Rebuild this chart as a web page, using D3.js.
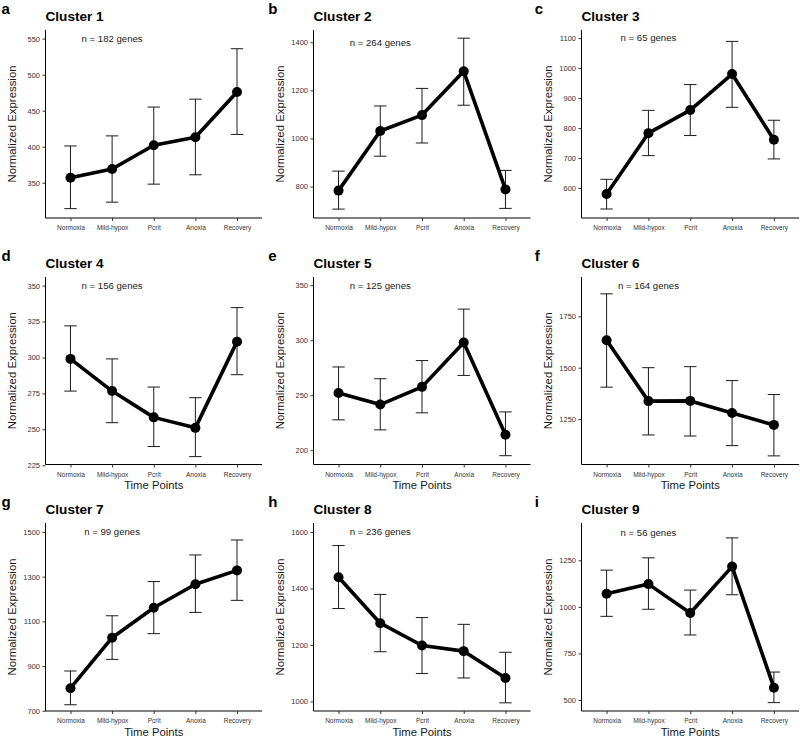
<!DOCTYPE html>
<html>
<head>
<meta charset="utf-8">
<script src="https://cdn.jsdelivr.net/npm/d3@7"></script>
<style>
  body { margin: 0; background: white; }
  svg text { font-family: "Liberation Sans", Arial, sans-serif; }
</style>
</head>
<body>
<div id="chart"></div>
<script>
// time points on the x axis
var timePoints = ["Normoxia", "Mild-hypox", "Pcrit", "Anoxia", "Recovery"];
var panelLetters = ["a", "b", "c", "d", "e", "f", "g", "h", "i"];
var clusterNames = ["Cluster 1", "Cluster 2", "Cluster 3", "Cluster 4", "Cluster 5", "Cluster 6", "Cluster 7", "Cluster 8", "Cluster 9"];
var geneCounts = [182, 264, 65, 156, 125, 164, 99, 236, 56];

// mean normalized expression per cluster
var means = [
  [357, 369, 402, 413, 476],
  [783, 1031, 1097, 1279, 788],
  [580, 783, 860, 980, 761],
  [299, 276.6, 258.3, 251, 311],
  [252, 241.5, 257.6, 298, 214],
  [1634, 1337, 1338, 1279, 1221],
  [801, 1027, 1161, 1266, 1328],
  [1440, 1277, 1198, 1178, 1083],
  [1070, 1122, 967, 1216, 566]
];
var errLow = [
  [314, 323, 348, 361, 417],
  [706, 926, 981, 1138, 709],
  [530, 708, 775, 869, 697],
  [276.6, 254.6, 238, 231, 288],
  [227.6, 218.5, 234, 268, 195],
  [1405, 1172, 1167, 1120, 1070],
  [727, 930, 1045, 1140, 1194],
  [1329, 1176, 1099, 1083, 995],
  [949, 987, 849, 1065, 486]
];
var errHigh = [
  [401, 415, 455, 466, 536],
  [864, 1135, 1208, 1417, 867],
  [629, 859, 945, 1089, 826],
  [322, 299, 279.4, 272, 334.7],
  [275.7, 265, 281.5, 328.3, 234.8],
  [1860, 1500, 1505, 1437, 1369],
  [878, 1125, 1278, 1397, 1464],
  [1552, 1379, 1297, 1273, 1174],
  [1197, 1263, 1090, 1370, 650]
];
// y value where the "n = .. genes" text sits
var labelY = [550, 1400, 1100, 350, 350, 1900, 1500, 1600, 1400];
var yDomains = [
  [301, 562], [669, 1451], [500, 1127],
  [225.5, 356], [187, 357.5], [1028, 1942],
  [699, 1540], [966, 1632], [441, 1450]
];
var yTicks = [
  [350, 400, 450, 500, 550],
  [800, 1000, 1200, 1400],
  [600, 700, 800, 900, 1000, 1100],
  [225, 250, 275, 300, 325, 350],
  [200, 250, 300, 350],
  [1250, 1500, 1750],
  [700, 900, 1100, 1300, 1500],
  [1000, 1200, 1400, 1600],
  [500, 750, 1000, 1250]
];

var W = 800, H = 738;
var colStart = [0, 266.7, 533.3];
var colLeft = [45.5, 313.5, 581.5];
var colRight = [262, 530.5, 799];
var rowTop = [30, 277, 523];
var rowBottom = [218, 464.5, 711];

var svg = d3.select("#chart").append("svg")
  .attr("width", W)
  .attr("height", H)
  .style("background", "white");

means.forEach(function (m, i) {
  var col = i % 3, row = Math.floor(i / 3);
  var left = colLeft[col], right = colRight[col];
  var top = rowTop[row], bottom = rowBottom[row];

  var data = timePoints.map(function (t, j) {
    return { tp: t, mean: m[j], lo: errLow[i][j], hi: errHigh[i][j] };
  });

  var x = d3.scalePoint()
    .domain(timePoints)
    .range([left, right])
    .padding(0.6);

  var y = d3.scaleLinear()
    .domain(yDomains[i])
    .range([bottom, top]);

  var g = svg.append("g");

  // axes
  var yAxis = g.append("g")
    .attr("transform", "translate(" + left + ",0)")
    .call(d3.axisLeft(y).tickValues(yTicks[i]).tickFormat(d3.format("d")).tickSize(3).tickPadding(2.5).tickSizeOuter(0));
  yAxis.select(".domain").attr("d", "M0," + top + "V" + bottom).attr("stroke", "#000").attr("stroke-width", 1);
  yAxis.selectAll(".tick line").attr("stroke", "#333");
  yAxis.selectAll(".tick text").attr("fill", "#333").style("font-size", "7.5px");

  var xAxis = g.append("g")
    .attr("transform", "translate(0," + bottom + ")")
    .call(d3.axisBottom(x).tickSize(3).tickPadding(4.5).tickSizeOuter(0));
  xAxis.select(".domain").attr("d", "M" + left + ",0H" + right).attr("stroke", "#000").attr("stroke-width", 1);
  xAxis.selectAll(".tick line").attr("stroke", "#333");
  xAxis.selectAll(".tick text").attr("fill", "#333").style("font-size", "6.5px");

  // error bars
  var capW = 6.2;
  var eb = g.append("g").selectAll("g")
    .data(data)
    .enter().append("g")
    .attr("stroke", "#1a1a1a")
    .attr("stroke-width", 1);
  eb.append("line")
    .attr("x1", d => x(d.tp)).attr("x2", d => x(d.tp))
    .attr("y1", d => y(d.lo)).attr("y2", d => y(d.hi));
  eb.append("line")
    .attr("x1", d => x(d.tp) - capW).attr("x2", d => x(d.tp) + capW)
    .attr("y1", d => y(d.lo)).attr("y2", d => y(d.lo));
  eb.append("line")
    .attr("x1", d => x(d.tp) - capW).attr("x2", d => x(d.tp) + capW)
    .attr("y1", d => y(d.hi)).attr("y2", d => y(d.hi));

  // line + points
  g.append("path")
    .datum(data)
    .attr("fill", "none")
    .attr("stroke", "#000")
    .attr("stroke-width", 3.6)
    .attr("stroke-linejoin", "round")
    .attr("d", d3.line().x(d => x(d.tp)).y(d => y(d.mean)));

  g.append("g").selectAll("circle")
    .data(data)
    .enter().append("circle")
    .attr("cx", d => x(d.tp))
    .attr("cy", d => y(d.mean))
    .attr("r", 5)
    .attr("fill", "#000");

  // annotation
  g.append("text")
    .attr("x", x(timePoints[1]))
    .attr("y", y(labelY[i]))
    .attr("dy", "0.35em")
    .attr("text-anchor", "middle")
    .style("font-size", "9.6px")
    .attr("fill", "#1a1a1a")
    .text("n = " + geneCounts[i] + " genes");

  // titles
  g.append("text")
    .attr("x", left)
    .attr("y", top - 9.5)
    .style("font-size", "13.6px")
    .style("font-weight", "bold")
    .text(clusterNames[i]);

  g.append("text")
    .attr("x", colStart[col] + 1.5)
    .attr("y", top - 16)
    .style("font-size", "15px")
    .style("font-weight", "bold")
    .text(panelLetters[i]);

  g.append("text")
    .attr("transform", "translate(" + (left - 30) + "," + ((top + bottom) / 2) + ")rotate(-90)")
    .attr("text-anchor", "middle")
    .style("font-size", "11.4px")
    .attr("fill", "#1a1a1a")
    .text("Normalized Expression");

  if (row > 0) {
    g.append("text")
      .attr("x", (left + right) / 2)
      .attr("y", bottom + 24.5)
      .attr("text-anchor", "middle")
      .style("font-size", "11.3px")
      .attr("fill", "#1a1a1a")
      .text("Time Points");
  }
});
</script>
</body>
</html>
